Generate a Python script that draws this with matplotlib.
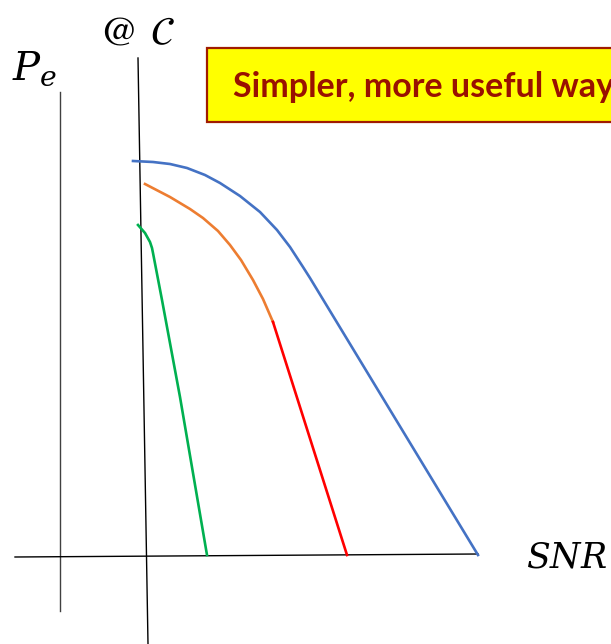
import numpy as np
import matplotlib.pyplot as plt
from matplotlib.patches import Rectangle

plt.rcParams['mathtext.fontset'] = 'stix'

# hand-drawn sketch, coordinates in picture units (x right, y down)
blue_x = [133, 153, 170, 187, 205, 220, 240, 260, 277, 290, 303, 310, 478]
blue_y = [161, 162, 164, 168, 175, 183, 196, 212, 230, 247, 267, 278, 555]
orange_x = [145, 170, 190, 203, 218, 230, 241, 253, 263, 273]
orange_y = [184, 197, 209, 218, 231, 245, 260, 280, 299, 322]
red_x = [273, 347]
red_y = [322, 555]
green_x = [138, 145, 150, 152, 153, 162, 180, 207]
green_y = [225, 233, 242, 248, 253, 300, 397, 555]

# axes of the sketch
pe_axis_x = [60, 60]
pe_axis_y = [92, 611]
c_axis_x = [138, 148]
c_axis_y = [58, 644]
snr_axis_x = [15, 478]
snr_axis_y = [557, 554]

fig = plt.figure(figsize=(6.11, 6.44), dpi=100)
ax = fig.add_axes([0, 0, 1, 1])
ax.set_xlim(0, 611)
ax.set_ylim(644, 0)
ax.axis('off')

ax.plot(pe_axis_x, pe_axis_y, c='#404040', lw=1)
ax.plot(c_axis_x, c_axis_y, c='black', lw=1)
ax.plot(snr_axis_x, snr_axis_y, c='black', lw=1)

ax.plot(blue_x, blue_y, c='#4472C4', lw=1.9, solid_joinstyle='round')
ax.plot(orange_x, orange_y, c='#ED7D31', lw=1.9, solid_joinstyle='round')
ax.plot(red_x, red_y, c='#FF0000', lw=1.9)
ax.plot(green_x, green_y, c='#00B050', lw=1.9, solid_joinstyle='round')

ax.text(12, 80, r'$P_e$', fontsize=29, va='baseline', ha='left',
        math_fontfamily='dejavuserif')
ax.text(99, 44, r'$@$', fontsize=30, va='baseline', ha='left')
ax.text(150, 44, r'$\mathcal{C}$', fontsize=28, va='baseline', ha='left')
ax.text(526, 568, r'$SNR$', fontsize=25, va='baseline', ha='left',
        math_fontfamily='dejavuserif')

ax.add_patch(Rectangle((207, 48), 420, 74, facecolor='#FFFF00',
                       edgecolor='#A01C00', lw=1.6))
ax.text(233, 97, 'Simpler, more useful way', fontsize=24.5, fontweight='bold',
        color='#991100', family='Lato', va='baseline', ha='left')

plt.savefig('out.png', dpi=100)
